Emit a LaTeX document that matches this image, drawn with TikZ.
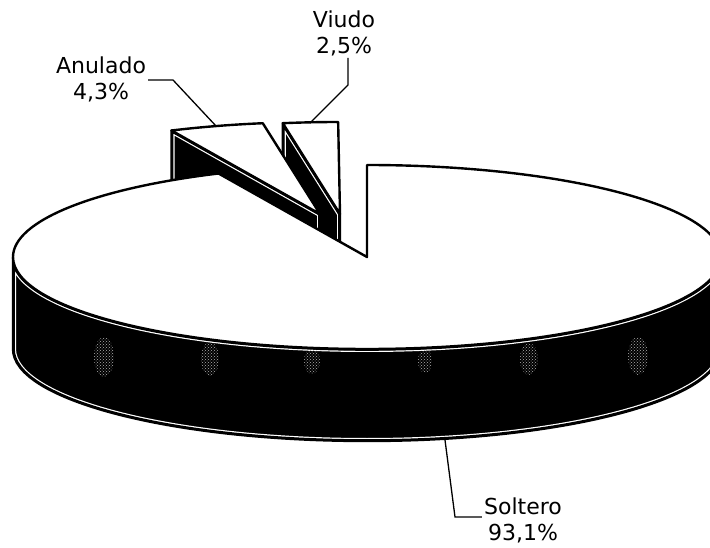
\documentclass[tikz,border=0pt]{standalone}
\usepackage{fontspec}
\setmainfont{DejaVu Sans}
\usetikzlibrary{patterns}

% black wall of a slice, with its thin white line inside the edge
\newcommand{\sidewall}[1]{%
  \begin{scope}
    \clip #1;
    \fill[black] #1;
    \draw[white, line width=6pt] #1;
    \draw[black, line width=3.6pt] #1;
  \end{scope}
  \draw[outline] #1;}

\begin{document}
\begin{tikzpicture}[x=1pt, y=1pt,
    outline/.style={line width=2.4pt, line join=round},
    topface/.style={outline, fill=white},
    speckled/.style={pattern=crosshatch dots, pattern color=speckle},
    leader/.style={line width=1.3pt},
    pielabel/.style={align=center, inner sep=2pt, font=\fontsize{22}{26}\selectfont}]
	\definecolor{speckle}{HTML}{B0B0B0}
	\useasboundingbox (0,0) rectangle (710,547);
	\clip (0,0) rectangle (710,547);
	% Viudo
	\sidewall{(340,333) -- (282.8,423.8) -- (282.8,331.8) -- (340,241) -- cycle}
	\draw[topface] (340,333) -- (282.8,423.8) arc[start angle=99.3, end angle=90.3, x radius=354, y radius=92] -- cycle;
	% Anulado
	\sidewall{(320,333) -- (171.5,416.5) -- (171.5,324.5) -- (320,241) -- cycle}
	\draw[topface] (320,333) -- (171.5,416.5) arc[start angle=114.8, end angle=99.3, x radius=354, y radius=92] -- cycle;
	% Soltero
	\sidewall{(13,290) -- (13,198) arc[start angle=180, end angle=360, x radius=354, y radius=92] -- (721,290) arc[start angle=0, end angle=-180, x radius=354, y radius=92] -- cycle}
	\fill[speckled] (104,190) ellipse[x radius=10, y radius=20];
	\fill[speckled] (210,188) ellipse[x radius=9, y radius=17];
	\fill[speckled] (312,186) ellipse[x radius=8, y radius=13];
	\fill[speckled] (425,186) ellipse[x radius=7, y radius=12];
	\fill[speckled] (529,188) ellipse[x radius=9, y radius=16];
	\fill[speckled] (638,191) ellipse[x radius=10, y radius=19];
	\draw[topface] (367,290) -- (367,382) arc[start angle=90, end angle=-245.2, x radius=354, y radius=92] -- cycle;

	% labels
	\node[pielabel] (anulado) at (101,467.5) {Anulado\\4,3\%};
	\node[pielabel] (viudo) at (344,514) {Viudo\\2,5\%};
	\node[pielabel] (soltero) at (523,27) {Soltero\\93,1\%};
	\coordinate (anuladobend) at (173,467);
	\coordinate (anuladotip) at (216,421);
	\coordinate (viudobend) at (348,462);
	\coordinate (viudotip) at (310,424);
	\coordinate (solterotip) at (445,107);
	\coordinate (solterobend) at (455,30);
	\draw[leader] (anulado.east |- anuladobend) -- (anuladobend) -- (anuladotip);
	\draw[leader] (viudo.south -| viudobend) -- (viudobend) -- (viudotip);
	\draw[leader] (solterotip) -- (solterobend) -- (solterobend -| soltero.west);
\end{tikzpicture}
\end{document}
